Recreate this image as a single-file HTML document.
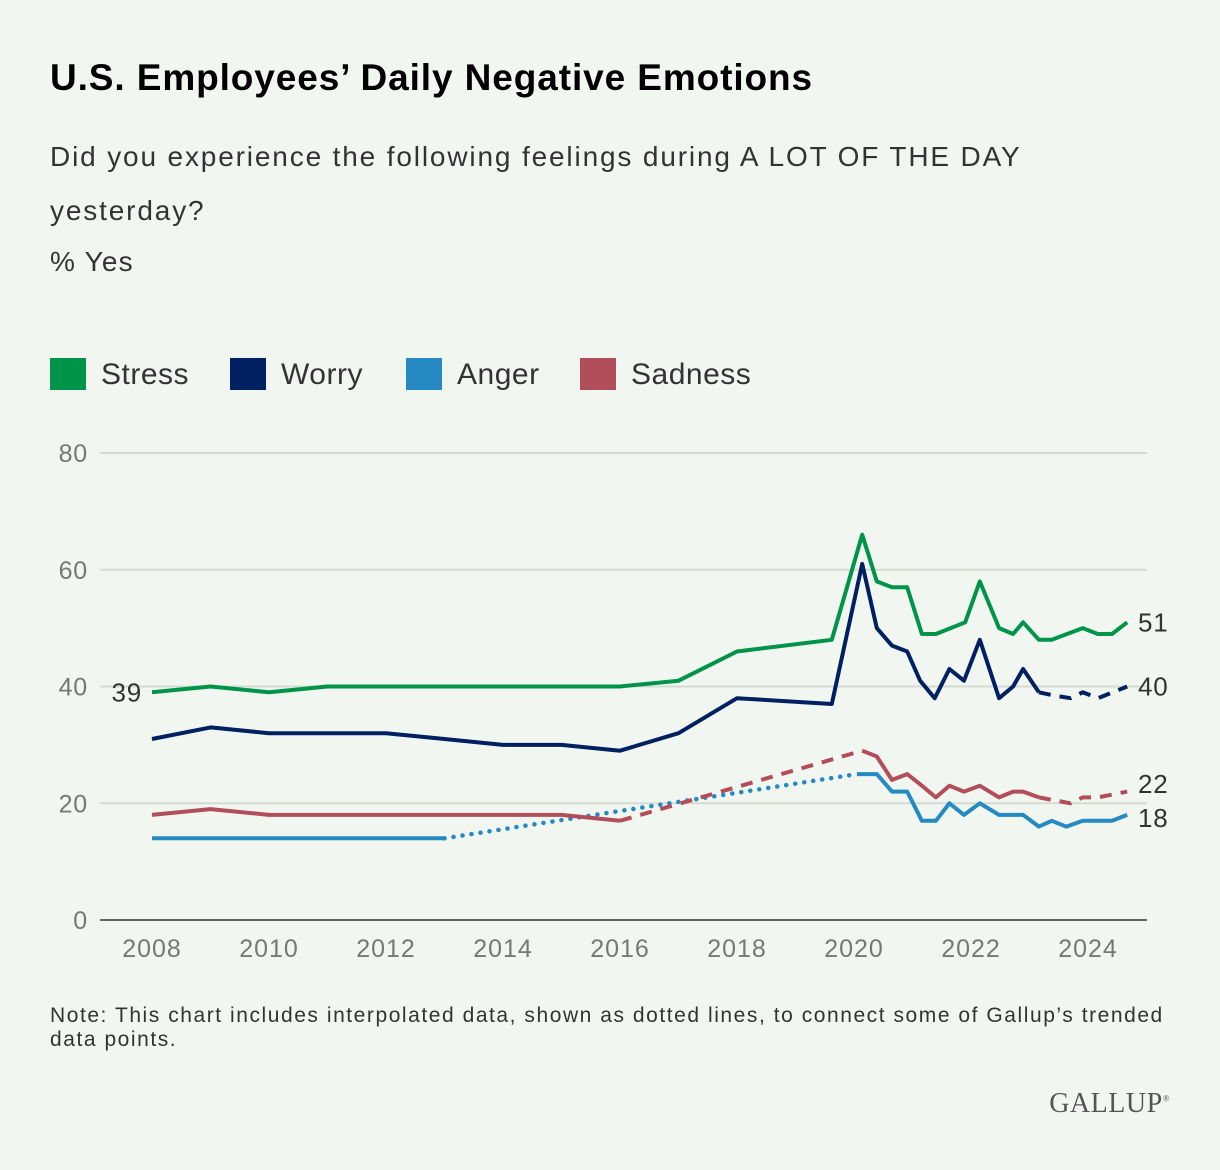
<!DOCTYPE html>
<html><head><meta charset="utf-8"><style>
body{margin:0;background:#f1f7f0;font-family:"Liberation Sans",sans-serif;}
#wrap{position:relative;width:1220px;height:1170px;overflow:hidden;background:#f1f7f0}
.t{position:absolute;left:50px;white-space:nowrap}
</style></head><body>
<div id="wrap">
<div class="t" style="top:57px;font-size:37px;font-weight:bold;color:#000;letter-spacing:0.9px">U.S. Employees’ Daily Negative Emotions</div>
<div class="t" style="top:130px;font-size:28px;color:#333;line-height:54px;letter-spacing:1.85px">Did you experience the following feelings during A LOT OF THE DAY<br>yesterday?</div>
<div class="t" style="top:246px;font-size:28px;color:#333;letter-spacing:1.2px">% Yes</div>
<div class="t" style="top:1004px;font-size:21px;color:#333;line-height:24px;letter-spacing:1.55px">Note: This chart includes interpolated data, shown as dotted lines, to connect some of Gallup’s trended<br>data points.</div>
<div style="position:absolute;right:50px;top:1088px;font-family:'Liberation Serif',serif;font-size:28px;color:#555;letter-spacing:0.5px">GALLUP<sup style="font-size:9px">®</sup></div>
<svg id="chart" width="1220" height="1170" style="position:absolute;left:0;top:0"></svg>
</div>
<script>
const yTicks=[0,20,40,60,80];
const xTicks=[2008,2010,2012,2014,2016,2018,2020,2022,2024];
const seriesNames=["Stress","Worry","Anger","Sadness"];
const seriesColors=["#00944a","#002061","#2589c2","#b24d5a"];
const stressX=[2008,2009,2010,2011,2012,2013,2014,2015,2016,2017,2018,2019.62,2020.14,2020.39,2020.65,2020.91,2021.16,2021.40,2021.90,2022.15,2022.48,2022.72,2022.89,2023.16,2023.38,2023.91,2024.17,2024.41,2024.67];
const stressY=[39,40,39,40,40,40,40,40,40,41,46,48,66,58,57,57,49,49,51,58,50,49,51,48,48,50,49,49,51];
const worryX=[2008,2009,2010,2011,2012,2013,2014,2015,2016,2017,2018,2019.62,2020.14,2020.39,2020.65,2020.91,2021.13,2021.38,2021.63,2021.88,2022.15,2022.48,2022.72,2022.89,2023.16];
const worryY=[31,33,32,32,32,31,30,30,29,32,38,37,61,50,47,46,41,38,43,41,48,38,40,43,39];
const worryDashX=[2023.16,2023.4,2023.7,2023.91,2024.17,2024.67];
const worryDashY=[39,38.5,38,39,38,40];
const angerX=[2008,2009,2010,2011,2012,2013];
const angerY=[14,14,14,14,14,14];
const angerDotX=[2013,2020.05];
const angerDotY=[14,25];
const anger2X=[2020.05,2020.39,2020.65,2020.91,2021.16,2021.40,2021.63,2021.88,2022.15,2022.48,2022.72,2022.89,2023.16,2023.38,2023.63,2023.91,2024.17,2024.41,2024.67];
const anger2Y=[25,25,22,22,17,17,20,18,20,18,18,18,16,17,16,17,17,17,18];
const sadX=[2008,2009,2010,2011,2012,2013,2014,2015,2016];
const sadY=[18,19,18,18,18,18,18,18,17];
const sadDashX=[2016,2020.14];
const sadDashY=[17,29];
const sad2X=[2020.14,2020.39,2020.65,2020.91,2021.16,2021.40,2021.63,2021.88,2022.15,2022.48,2022.72,2022.89,2023.16];
const sad2Y=[29,28,24,25,23,21,23,22,23,21,22,22,21];
const sadDash2X=[2023.16,2023.7,2023.91,2024.17,2024.67];
const sadDash2Y=[21,20,21,21,22];
const endLabels=[["51",51],["40",40],["22",23.3],["18",17.5]];

const NS="http://www.w3.org/2000/svg";
const svg=document.getElementById('chart');
const X=v=>152+(v-2008)*58.5;
const Y=v=>920-v*5.8375;
function mk(tag,attrs,parent){const e=document.createElementNS(NS,tag);for(const k in attrs)e.setAttribute(k,attrs[k]);(parent||svg).appendChild(e);return e;}
let lx=50;
seriesNames.forEach((n,i)=>{
  const r=mk('rect',{x:lx,y:358,width:36,height:32,fill:seriesColors[i]});
  
  
  const t=mk('text',{x:lx+51,y:384,'font-size':30,fill:'#333','letter-spacing':0.5});
  t.textContent=n;
  
  
  lx+= [180,176,174,200][i];
});
yTicks.forEach(v=>{
  const l=mk('line',{x1:100,x2:1147,y1:Y(v),y2:Y(v),stroke:v===0?'#333':'#d5dbd3','stroke-width':v===0?1.5:2});
  
  
  const t=mk('text',{x:88,y:Y(v)+9,'text-anchor':'end','font-size':25,fill:'#777','letter-spacing':0.8});
  t.textContent=v;
  
  
});
xTicks.forEach(v=>{
  const t=mk('text',{x:X(v),y:957,'text-anchor':'middle','font-size':25,fill:'#777','letter-spacing':1});
  t.textContent=v;
  
  
});
function line(xs,ys,color,style,name){
  const d=xs.map((x,i)=>(i?'L':'M')+X(x).toFixed(1)+','+Y(ys[i]).toFixed(1)).join('');
  const a={d:d,fill:'none',stroke:color,'stroke-width':4,'stroke-linejoin':'round','stroke-linecap':style==='dot'?'round':'butt'};
  if(style==='dash')a['stroke-dasharray']='12,9';
  if(style==='dot'){a['stroke-dasharray']='0.1,9';a['stroke-width']=4.5;}
  const p=mk('path',a);
  
  
}
const C=seriesColors;
line(angerX,angerY,C[2],'solid','anger-line');
line(angerDotX,angerDotY,C[2],'dot','anger-interpolated');
line(anger2X,anger2Y,C[2],'solid','anger-line-recent');
line(sadX,sadY,C[3],'solid','sadness-line');
line(sadDashX,sadDashY,C[3],'dash','sadness-interpolated');
line(sad2X,sad2Y,C[3],'solid','sadness-line-recent');
line(sadDash2X,sadDash2Y,C[3],'dash','sadness-interpolated-recent');
line(worryX,worryY,C[1],'solid','worry-line');
line(worryDashX,worryDashY,C[1],'dash','worry-interpolated');
line(stressX,stressY,C[0],'solid','stress-line');
endLabels.forEach((e,i)=>{
  const t=mk('text',{x:1138,y:Y(e[1])+9,'font-size':26,fill:'#333','letter-spacing':0.8});
  t.textContent=e[0];
  
  
});
const s=mk('text',{x:142,y:Y(stressY[0])+9,'text-anchor':'end','font-size':26,fill:'#333','letter-spacing':0.8});
s.textContent=String(stressY[0]);


</script>
</body></html>
